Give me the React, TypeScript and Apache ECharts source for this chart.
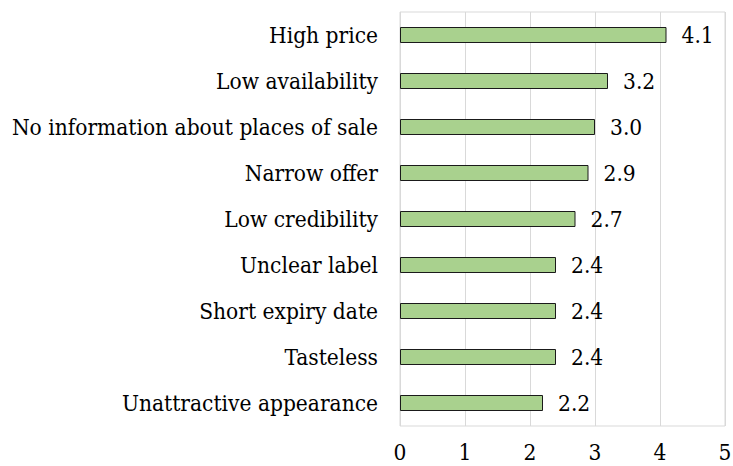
import React, { useEffect, useRef } from "react";
import * as echarts from "echarts";

const categories = [
  "High price",
  "Low availability",
  "No information about places of sale",
  "Narrow offer",
  "Low credibility",
  "Unclear label",
  "Short expiry date",
  "Tasteless",
  "Unattractive appearance",
];
const values = [4.1, 3.2, 3.0, 2.9, 2.7, 2.4, 2.4, 2.4, 2.2];
const xTicks = [0, 1, 2, 3, 4, 5];

const FONT = "'DejaVu Serif Condensed'";

export default function App() {
  const ref = useRef<HTMLDivElement>(null);
  useEffect(() => {
    if (!ref.current) return;
    const chart = echarts.init(ref.current, null, { renderer: "svg" });
    chart.setOption({
      animation: false,
      textStyle: { fontFamily: FONT },
      grid: {
        left: 400,
        right: 8,
        top: 12,
        bottom: 40,
        show: true,
        borderColor: "#d9d9d9",
        borderWidth: 1,
        containLabel: false,
        outerBoundsMode: "none",
      },
      xAxis: {
        type: "value",
        min: xTicks[0],
        max: xTicks[xTicks.length - 1],
        interval: 1,
        axisLine: { show: false },
        axisTick: { show: false },
        splitLine: { show: true, lineStyle: { color: "#d9d9d9", width: 1 } },
        axisLabel: {
          color: "#000",
          fontFamily: FONT,
          fontSize: 22.5,
          margin: 14,
        },
      },
      yAxis: {
        type: "category",
        data: categories,
        inverse: true,
        axisLine: { show: false },
        axisTick: { show: false },
        axisLabel: {
          color: "#000",
          fontFamily: FONT,
          fontSize: 22.5,
          margin: 22,
        },
      },
      series: [
        {
          type: "bar",
          data: values,
          barWidth: 16,
          itemStyle: {
            color: "#a9d18e",
            borderColor: "#1a1a1a",
            borderWidth: 1,
          },
          label: {
            show: true,
            position: "right",
            distance: 15,
            color: "#000",
            fontFamily: FONT,
            fontSize: 22.5,
            formatter: (p: any) => Number(p.value).toFixed(1),
          },
        },
      ],
    });
    return () => chart.dispose();
  }, []);
  return <div ref={ref} style={{ width: 733, height: 466, position: "absolute", left: 0, top: 0 }} />;
}
